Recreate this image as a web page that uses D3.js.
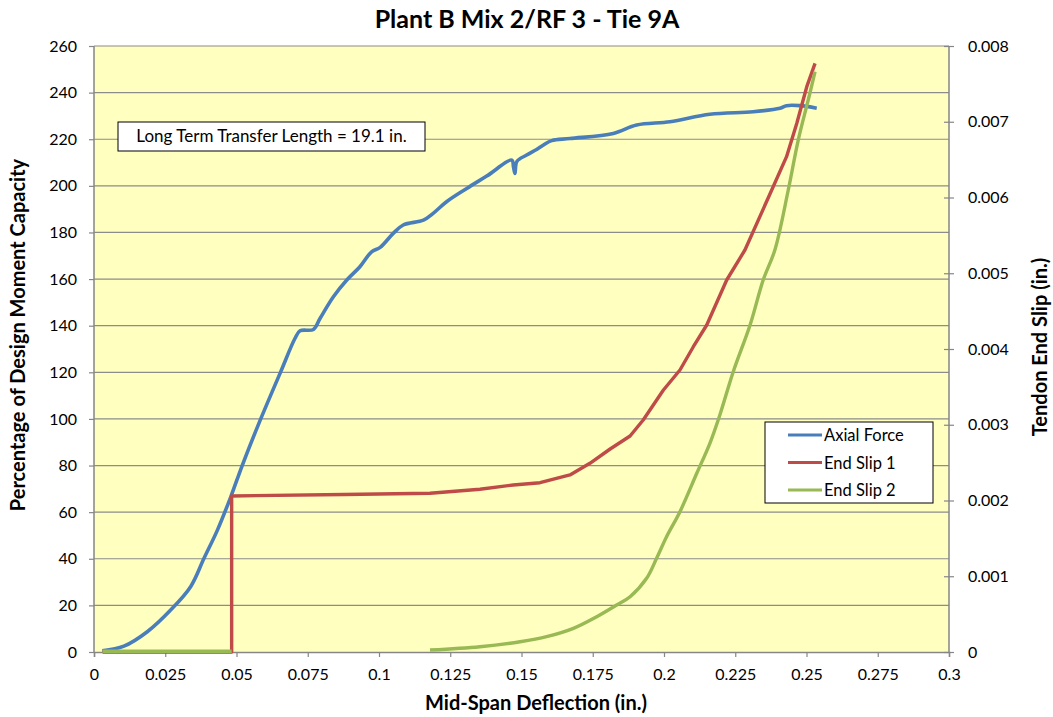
<!DOCTYPE html>
<html>
<head>
<meta charset="utf-8">
<script src="https://cdn.jsdelivr.net/npm/d3@7"></script>
<style>
  body { margin: 0; background: #fff; }
  text { font-family: Lato, "Open Sans", sans-serif; fill: #000; }
</style>
</head>
<body>
<div id="chart"></div>
<script>
// Data
const axialX = [0.0029, 0.0105, 0.0187, 0.0269, 0.0339, 0.0386, 0.0433, 0.048, 0.052, 0.0585, 0.0655, 0.0705, 0.0723, 0.077, 0.0793, 0.084, 0.0887, 0.0933, 0.0974, 0.1004, 0.105, 0.1085, 0.1156, 0.119, 0.1237, 0.1308, 0.1378, 0.1466, 0.1472, 0.1477, 0.1484, 0.1518, 0.1553, 0.1577, 0.1606, 0.167, 0.1822, 0.1904, 0.2021, 0.2161, 0.2313, 0.2407, 0.243, 0.2477, 0.2536];
const axialY = [0.5, 2.5, 8.7, 18, 28, 40.2, 52.3, 66.6, 80, 100, 120.2, 134.5, 137.8, 138.4, 143.1, 152.4, 159.6, 165.3, 171.7, 173.6, 179.6, 183.2, 185.3, 188.2, 193.2, 198.9, 204.2, 211, 208, 205.3, 210.5, 213.2, 215.6, 217.5, 219.4, 220.3, 222.5, 226.1, 227.5, 230.7, 231.8, 233.3, 234.4, 234.4, 233.3];

const slip1X = [0.003, 0.0483, 0.0483, 0.0877, 0.1179, 0.1354, 0.1471, 0.1565, 0.167, 0.174, 0.1811, 0.1881, 0.1927, 0.1998, 0.2056, 0.2103, 0.215, 0.222, 0.2284, 0.2378, 0.243, 0.2466, 0.2501, 0.253];
const slip1Y = [0, 0, 0.00206, 0.00208, 0.002095, 0.002148, 0.002205, 0.002235, 0.002337, 0.002491, 0.00268, 0.002851, 0.003063, 0.003459, 0.003723, 0.00403, 0.004317, 0.004911, 0.005307, 0.006099, 0.006539, 0.00698, 0.007463, 0.007771];

const slip2X = [0.003, 0.0483, 0.1, 0.1179, 0.1354, 0.1495, 0.1588, 0.1682, 0.1764, 0.1834, 0.1881, 0.1939, 0.1974, 0.2009, 0.2056, 0.2115, 0.2161, 0.2196, 0.2243, 0.2302, 0.2348, 0.2389, 0.2436, 0.2471, 0.2506, 0.253];
const slip2Y = [0.00001, 0.00001, null, 0.000026, 0.00007, 0.000136, 0.000202, 0.000312, 0.000466, 0.00062, 0.00073, 0.000973, 0.001237, 0.001522, 0.001852, 0.002359, 0.002755, 0.003129, 0.0037, 0.004317, 0.004911, 0.005307, 0.006099, 0.006759, 0.007287, 0.007661];

const xTicks = [0, 0.025, 0.05, 0.075, 0.1, 0.125, 0.15, 0.175, 0.2, 0.225, 0.25, 0.275, 0.3];
const xTickLabels = ["0", "0.025", "0.05", "0.075", "0.1", "0.125", "0.15", "0.175", "0.2", "0.225", "0.25", "0.275", "0.3"];
const leftTicks = [0, 20, 40, 60, 80, 100, 120, 140, 160, 180, 200, 220, 240, 260];
const rightTicks = [0, 0.001, 0.002, 0.003, 0.004, 0.005, 0.006, 0.007, 0.008];
const rightTickLabels = ["0", "0.001", "0.002", "0.003", "0.004", "0.005", "0.006", "0.007", "0.008"];
const seriesNames = ["Axial Force", "End Slip 1", "End Slip 2"];
const seriesColors = ["#4A7EBB", "#BE4B48", "#98B954"];

// Chart settings
const width = 1053;
const height = 717;
const margin = { top: 46, right: 104, bottom: 65, left: 94 };
const innerW = width - margin.left - margin.right;
const innerH = height - margin.top - margin.bottom;
const axisColor = "#868686";

const svg = d3.select("#chart")
  .append("svg")
  .attr("width", width)
  .attr("height", height);

const g = svg.append("g")
  .attr("transform", `translate(${margin.left},${margin.top})`);

const x = d3.scaleLinear().domain([0, 0.3]).range([0, innerW]);
const yL = d3.scaleLinear().domain([0, 260]).range([innerH, 0]);
const yR = d3.scaleLinear().domain([0, 0.008]).range([innerH, 0]);

// Plot background
g.append("rect")
  .attr("width", innerW)
  .attr("height", innerH)
  .attr("fill", "#FFFFC0");

// Gridlines
g.append("g")
  .selectAll("line")
  .data(leftTicks.slice(1))
  .enter()
  .append("line")
  .attr("x1", 0)
  .attr("x2", innerW)
  .attr("y1", (d) => yL(d))
  .attr("y2", (d) => yL(d))
  .attr("stroke", "#8c8c8c")
  .attr("stroke-width", 1.2);

// Left axis
const leftAxis = g.append("g")
  .call(d3.axisLeft(yL).tickValues(leftTicks).tickSize(5).tickPadding(12));
// Right axis (cross ticks)
const rightAxis = g.append("g")
  .attr("transform", `translate(${innerW},0)`)
  .call(d3.axisRight(yR).tickValues(rightTicks).tickSize(5).tickPadding(14)
    .tickFormat((d, i) => rightTickLabels[i]));
rightAxis.selectAll(".tick line").attr("x1", -5);
// Bottom axis
const bottomAxis = g.append("g")
  .attr("transform", `translate(0,${innerH})`)
  .call(d3.axisBottom(x).tickValues(xTicks).tickSize(5).tickPadding(12)
    .tickFormat((d, i) => xTickLabels[i]));

[leftAxis, rightAxis, bottomAxis].forEach((a) => {
  a.select(".domain").attr("stroke", axisColor).attr("stroke-width", 1.5);
  a.selectAll(".tick line").attr("stroke", axisColor).attr("stroke-width", 1.2);
  a.selectAll("text").attr("font-size", "16px").attr("font-family", "Lato, sans-serif").attr("fill", "#000");
});
leftAxis.select(".domain").attr("d", `M0,${innerH}V0`);
rightAxis.select(".domain").attr("d", `M0,${innerH}V0`);

// Lines
const axialData = axialX.map((v, i) => ({ x: v, y: axialY[i] }));
const slip1Data = slip1X.map((v, i) => ({ x: v, y: slip1Y[i] }));
const slip2Data = slip2X.map((v, i) => ({ x: v, y: slip2Y[i] }));

const curve = d3.curveCatmullRom.alpha(0.5);
const lineL = d3.line().x((d) => x(d.x)).y((d) => yL(d.y)).curve(curve);
const lineR = d3.line().defined((d) => d.y !== null).x((d) => x(d.x)).y((d) => yR(d.y));

g.append("path")
  .datum(axialData)
  .attr("d", lineL)
  .attr("fill", "none")
  .attr("stroke", seriesColors[0])
  .attr("stroke-width", 3.6)
  .attr("stroke-linejoin", "round");

g.append("path")
  .datum(slip1Data)
  .attr("d", lineR.curve(d3.curveLinear))
  .attr("fill", "none")
  .attr("stroke", seriesColors[1])
  .attr("stroke-width", 3.4)
  .attr("stroke-linejoin", "round");

g.append("path")
  .datum(slip2Data)
  .attr("d", lineR.curve(curve))
  .attr("fill", "none")
  .attr("stroke", seriesColors[2])
  .attr("stroke-width", 3.4);

// Annotation box
const note = svg.append("g").attr("transform", "translate(118,122)");
note.append("rect")
  .attr("width", 307)
  .attr("height", 29)
  .attr("fill", "#fff")
  .attr("stroke", "#000")
  .attr("stroke-width", 1);
note.append("text")
  .attr("x", 153.5)
  .attr("y", 20)
  .attr("text-anchor", "middle")
  .attr("font-size", "17px")
  .text("Long Term Transfer Length = 19.1 in.");

// Legend
const legend = svg.append("g").attr("transform", "translate(765,422)");
legend.append("rect")
  .attr("width", 168)
  .attr("height", 81)
  .attr("fill", "#fff")
  .attr("stroke", "#000")
  .attr("stroke-width", 1);
const legendItems = legend.selectAll(".legend-item")
  .data(seriesNames)
  .enter()
  .append("g")
  .attr("class", "legend-item")
  .attr("transform", (d, i) => `translate(0,${13 + i * 27.5})`);
legendItems.append("line")
  .attr("x1", 23)
  .attr("x2", 57)
  .attr("stroke", (d, i) => seriesColors[i])
  .attr("stroke-width", 3);
legendItems.append("text")
  .attr("x", 59)
  .attr("y", 6)
  .attr("font-size", "16.5px")
  .text((d) => d);

// Titles
svg.append("text")
  .attr("x", 527)
  .attr("y", 28)
  .attr("text-anchor", "middle")
  .attr("font-size", "25px")
  .attr("font-weight", "bold")
  .text("Plant B Mix 2/RF 3 - Tie 9A");

svg.append("text")
  .attr("x", 536)
  .attr("y", 710)
  .attr("text-anchor", "middle")
  .attr("font-size", "20px")
  .attr("font-weight", "bold")
  .text("Mid-Span Deflection (in.)");

svg.append("text")
  .attr("transform", `translate(25,${margin.top + innerH / 2 - 14}) rotate(-90)`)
  .attr("text-anchor", "middle")
  .attr("font-size", "20px")
  .attr("font-weight", "bold")
  .text("Percentage of Design Moment Capacity");

svg.append("text")
  .attr("transform", `translate(1047,${margin.top + innerH / 2 - 2}) rotate(-90)`)
  .attr("text-anchor", "middle")
  .attr("font-size", "20px")
  .attr("font-weight", "bold")
  .text("Tendon End Slip (in.)");
</script>
</body>
</html>
